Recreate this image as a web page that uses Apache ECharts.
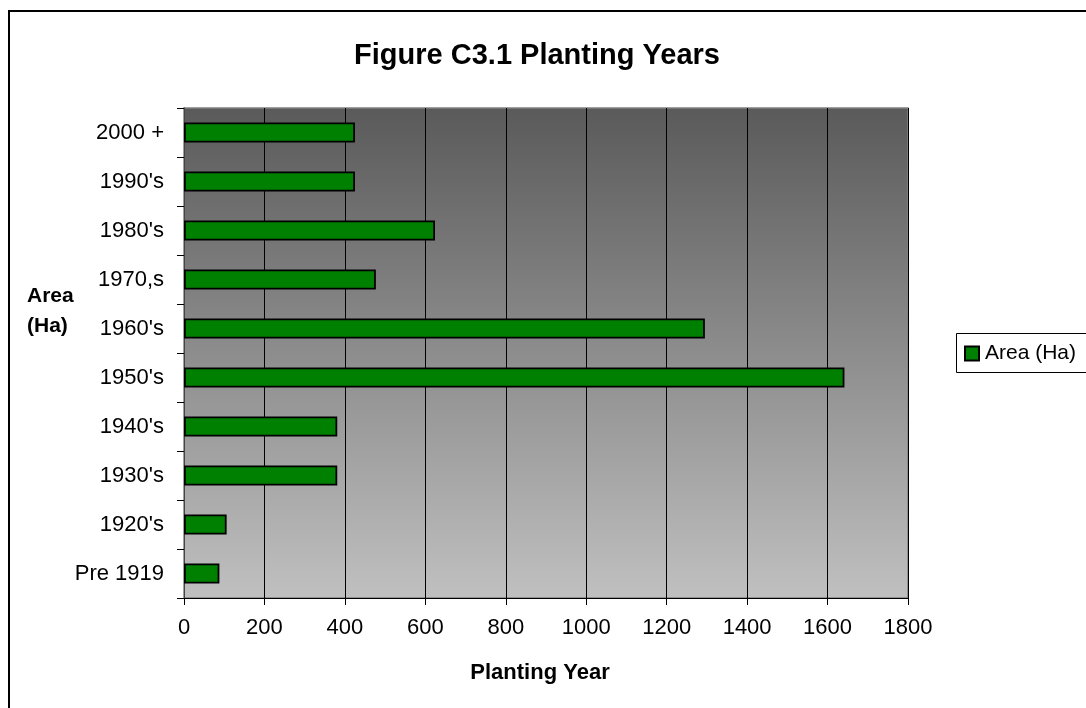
<!DOCTYPE html>
<html>
<head>
<meta charset="utf-8">
<script src="https://cdn.jsdelivr.net/npm/echarts@6/dist/echarts.min.js"></script>
<style>
  html, body { margin: 0; padding: 0; background: #fff; }
  #chart { width: 1086px; height: 708px; }
</style>
</head>
<body>
<div id="chart"></div>
<script>
const categories = ["Pre 1919", "1920's", "1930's", "1940's", "1950's", "1960's", "1970,s", "1980's", "1990's", "2000 +"];
const areaValues = [88, 106, 381, 381, 1642, 1295, 477, 624, 425, 425];
const seriesName = "Area (Ha)";
const titleText = "Figure C3.1 Planting Years";
const xAxisTitle = "Planting Year";
const yAxisTitle = "Area\n(Ha)";

const FONT = "'Liberation Sans', Arial, sans-serif";
const chart = echarts.init(document.getElementById('chart'), null, { renderer: 'canvas' });

chart.setOption({
  backgroundColor: '#ffffff',
  animation: false,
  title: {
    text: titleText,
    left: 532,
    textAlign: 'center',
    top: 36,
    textStyle: { fontFamily: FONT, fontSize: 29, fontWeight: 'bold', color: '#000' }
  },
  legend: {
    left: 956,
    top: 333,
    orient: 'vertical',
    borderWidth: 0,
    padding: [10, 8, 10, 8],
    itemWidth: 14,
    itemHeight: 14,
    itemGap: 5,
    textStyle: { fontFamily: FONT, fontSize: 21, color: '#000', padding: [0, 0, 0, 1] },
    data: [{ name: seriesName, icon: 'rect' }]
  },
  grid: {
    left: 184,
    right: 178,
    top: 108,
    bottom: 110,
    show: true,
    borderColor: '#808080',
    borderWidth: 1.5,
    backgroundColor: {
      type: 'linear', x: 0, y: 0, x2: 0, y2: 1,
      colorStops: [
        { offset: 0, color: '#5a5a5a' },
        { offset: 1, color: '#c0c0c0' }
      ]
    }
  },
  xAxis: {
    type: 'value',
    min: 0,
    max: 1800,
    interval: 200,
    name: xAxisTitle,
    nameLocation: 'middle',
    nameGap: 64,
    nameTextStyle: { fontFamily: FONT, fontSize: 22, fontWeight: 'bold', color: '#000', padding: [0, 12, 0, 0] },
    axisLine: { show: true, lineStyle: { color: '#000', width: 1 } },
    axisTick: { show: true, length: 7, lineStyle: { color: '#000' } },
    axisLabel: { fontFamily: FONT, fontSize: 22, color: '#000', margin: 19, formatter: function (v) { return String(v); } },
    splitLine: { show: true, lineStyle: { color: '#000', width: 1 } }
  },
  yAxis: {
    type: 'category',
    data: categories,
    axisLine: { show: true, lineStyle: { color: '#444', width: 1 } },
    axisTick: { show: true, length: 7, alignWithLabel: false, lineStyle: { color: '#000' } },
    axisLabel: { fontFamily: FONT, fontSize: 22, color: '#000', margin: 20 },
    splitLine: { show: false }
  },
  series: [{
    name: seriesName,
    type: 'bar',
    data: areaValues,
    barWidth: 20,
    itemStyle: { color: '#008000', borderColor: '#000', borderWidth: 1.8 }
  }],
  graphic: [
    {
      type: 'rect',
      shape: { x: 9, y: 11, width: 1200, height: 900 },
      style: { fill: 'none', stroke: '#000', lineWidth: 2 },
      silent: true
    },
    {
      type: 'rect',
      shape: { x: 956.5, y: 333.5, width: 200, height: 39 },
      style: { fill: 'none', stroke: '#000', lineWidth: 1 },
      silent: true
    },
    {
      type: 'text',
      left: 27,
      top: 281,
      style: { text: yAxisTitle, font: 'bold 21px ' + FONT, fill: '#000', lineHeight: 30 }
    }
  ]
});
</script>
</body>
</html>
